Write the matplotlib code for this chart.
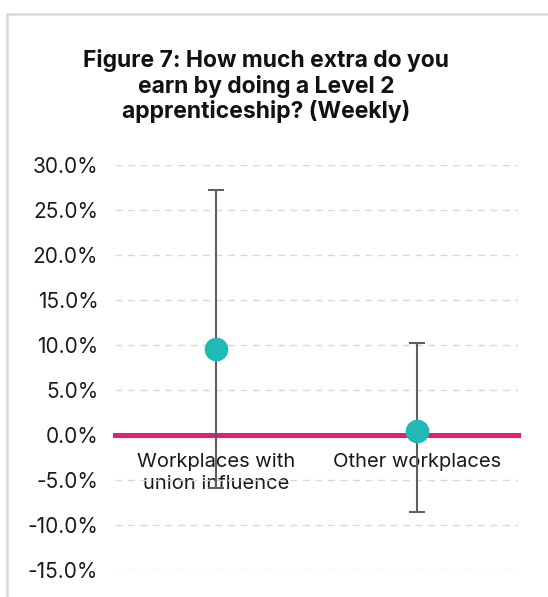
import matplotlib.pyplot as plt
from matplotlib.ticker import PercentFormatter
from matplotlib.patches import Rectangle

plt.rcParams['font.family'] = ['Inter', 'DejaVu Sans']
plt.rcParams['axes.unicode_minus'] = False

categories = ['Workplaces with\nunion influence', 'Other workplaces']
estimate = [9.6, 0.4]
upper = [27.2, 10.2]
lower = [-5.9, -8.6]

fig = plt.figure(figsize=(5.48, 5.97), dpi=100)
ax = fig.add_axes([115 / 548, 27 / 597, 403 / 548, 405 / 597])

# light frame round the chart
fig.patches.append(Rectangle((7 / 548, -0.1), 1.2, (583 / 597) + 0.1,
                             transform=fig.transFigure, fill=False,
                             edgecolor='#D9D9D9', linewidth=1.8))

x = list(range(len(categories)))
err_lo = [e - l for e, l in zip(estimate, lower)]
err_hi = [u - e for e, u in zip(estimate, upper)]

ax.errorbar(x, estimate, yerr=[err_lo, err_hi], fmt='none', ecolor='#5F5F5F',
            elinewidth=1.5, capsize=5.8, capthick=1.5, zorder=3, clip_on=False)
ax.plot(x, estimate, 'o', color='#20B9B5', markersize=16, zorder=4, clip_on=False)

ax.set_xlim(-0.5, 1.5)
ax.set_ylim(-15, 30)
ax.set_yticks(range(-15, 31, 5))
ax.yaxis.set_major_formatter(PercentFormatter(decimals=1))

ax.grid(axis='y', color='#D9D9D9', linestyle=(0, (5, 4)), linewidth=1)
ax.set_axisbelow(True)

for s in ['top', 'right', 'left']:
    ax.spines[s].set_visible(False)
ax.spines['bottom'].set_position(('data', 0))
ax.spines['bottom'].set_color('#E61E6E')
ax.spines['bottom'].set_linewidth(3.6)
ax.spines['bottom'].set_zorder(2.5)

ax.set_xticks(x, categories)
ax.tick_params(axis='x', length=0, pad=13, labelsize=14.5, labelcolor='#1A1A1A')
ax.tick_params(axis='y', length=0, pad=12, labelsize=15, labelcolor='#1A1A1A')
for lab in ax.get_xticklabels():
    lab.set_linespacing(1.25)

fig.text(266 / 548, 1 - 86 / 597,
         'Figure 7: How much extra do you\nearn by doing a Level 2\napprenticeship? (Weekly)',
         ha='center', va='center', fontsize=16.5, fontweight='bold',
         linespacing=1.15, color='#111111')

fig.savefig('out.png', dpi=100)
